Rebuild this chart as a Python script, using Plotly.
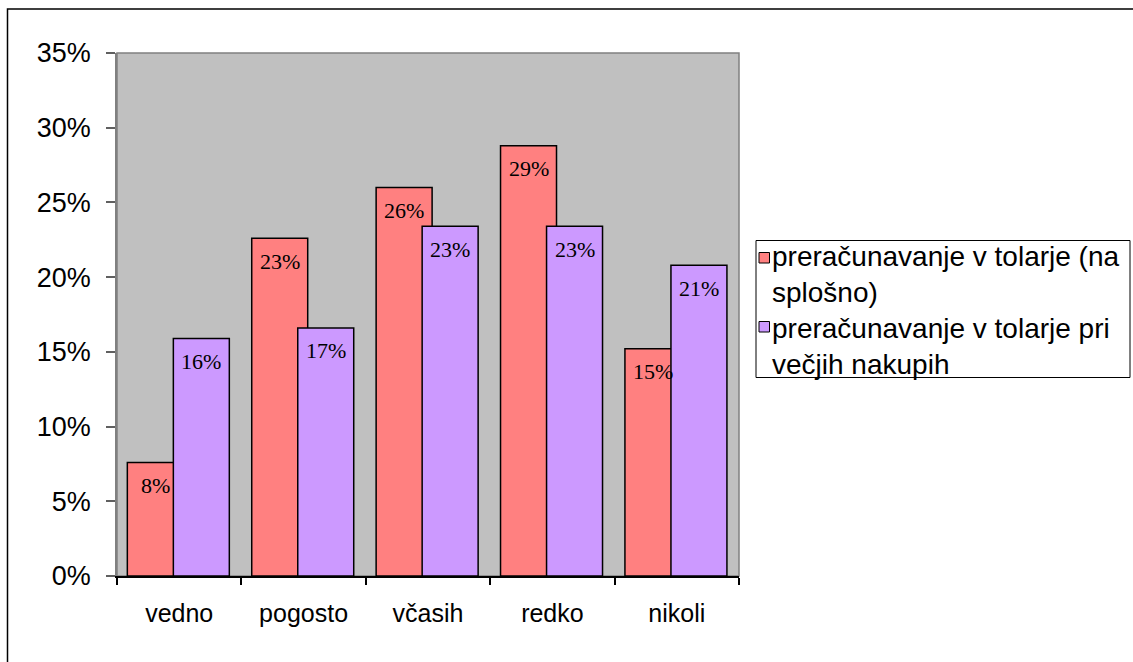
import plotly.graph_objects as go

# Survey answers: how often prices are converted into tolars
categories = ["vedno", "pogosto", "včasih", "redko", "nikoli"]
series_names = [
    "preračunavanje v tolarje (na<br>splošno)",
    "preračunavanje v tolarje pri<br>večjih nakupih",
]
splosno = [0.076, 0.226, 0.260, 0.288, 0.152]
vecji_nakupi = [0.159, 0.166, 0.234, 0.234, 0.208]
y_ticks = [0, 0.05, 0.10, 0.15, 0.20, 0.25, 0.30, 0.35]

RED = "#FF8080"
PURPLE = "#CC99FF"

W, H = 1133, 662
L, R, T, B = 117, 394, 53, 86
PW, PH = W - L - R, H - T - B
CAT_PX = PW / len(categories)


def px_x(px):
    return (px - L) / PW


def px_y(py):
    return (H - B - py) / PH


bar_specs = [
    (series_names[0], splosno, RED, -0.417),
    (series_names[1], vecji_nakupi, PURPLE, -0.047),
]
BAR_W = 0.45

fig = go.Figure()
for name, vals, color, off in bar_specs:
    fig.add_trace(go.Bar(
        x=categories, y=vals, name=name,
        width=BAR_W, offset=off,
        marker=dict(color=color, line=dict(color="black", width=1.5)),
        showlegend=False,
    ))

# value labels inside the top of each bar
annotations = []
for name, vals, color, off in bar_specs:
    shift = (off + BAR_W / 2) * CAT_PX
    for c, v in zip(categories, vals):
        annotations.append(dict(
            x=c, y=v, xref="x", yref="y", text=f"{round(v * 100)}%",
            showarrow=False, xshift=shift, yshift=-23,
            xanchor="center", yanchor="middle",
            font=dict(family="Liberation Serif", size=22, color="black"),
        ))

# legend: framed box with colour swatches and wrapped series names
legend_items = [(series_names[0], RED, 258, 274.5), (series_names[1], PURPLE, 327, 346)]
shapes = [
    dict(type="rect", xref="paper", yref="paper",
         x0=0, x1=1, y0=0, y1=1, layer="below",
         line=dict(color="#808080", width=1.5)),
    dict(type="rect", xref="paper", yref="paper",
         x0=px_x(756), x1=px_x(1130), y0=px_y(240.5), y1=px_y(377.5),
         line=dict(color="black", width=1), fillcolor="white"),
    dict(type="rect", xref="paper", yref="paper",
         x0=px_x(7.5), x1=px_x(1150), y0=px_y(9), y1=px_y(680),
         line=dict(color="black", width=1.5)),
]
for name, color, sy, ty in legend_items:
    shapes.append(dict(type="rect", xref="paper", yref="paper",
                       x0=px_x(759), x1=px_x(769.5), y0=px_y(sy - 5.5), y1=px_y(sy + 5),
                       line=dict(color="black", width=1), fillcolor=color))
    annotations.append(dict(
        x=px_x(770), y=px_y(ty), xref="paper", yref="paper",
        text=name, showarrow=False, xanchor="left", yanchor="middle", align="left",
        font=dict(family="Liberation Sans", size=28, color="black"),
    ))

fig.update_layout(
    width=W, height=H,
    margin=dict(l=L, r=R, t=T, b=B),
    paper_bgcolor="white", plot_bgcolor="#C0C0C0",
    barmode="overlay",
    showlegend=False,
    shapes=shapes,
    annotations=annotations,
    font=dict(family="Liberation Sans", color="black"),
)
fig.update_xaxes(
    type="category", showgrid=False, showline=True, linecolor="black", linewidth=1.5,
    ticks="outside", tickson="boundaries", ticklen=7, tickcolor="black", tickwidth=1.5,
    tickfont=dict(size=25), ticklabelstandoff=14,
)
fig.update_yaxes(
    range=[0, 0.35], tickvals=y_ticks, tickformat=".0%", showgrid=False, zeroline=False,
    showline=True, linecolor="#808080", linewidth=1.5,
    ticks="outside", ticklen=9, tickcolor="#606060", tickwidth=1.5,
    tickfont=dict(size=27), ticklabelstandoff=10,
)

fig.write_html("out.html")
